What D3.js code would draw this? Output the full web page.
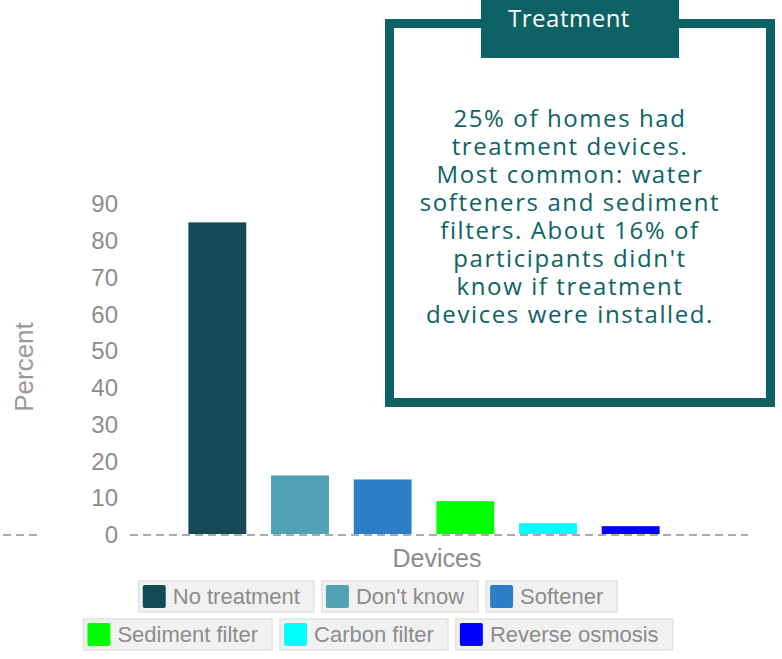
<!DOCTYPE html>
<html>
<head>
<meta charset="utf-8">
<script src="https://cdn.jsdelivr.net/npm/d3@7"></script>
<style>
  body { margin: 0; background: #fff; }
  svg { display: block; }
</style>
</head>
<body>
<div id="chart"></div>
<script>
// data
const categories = ['No treatment', "Don't know", 'Softener', 'Sediment filter', 'Carbon filter', 'Reverse osmosis']
const percents = [85.0, 16.2, 15.1, 9.2, 3.2, 2.4]
const colors = ['#124a55', '#4fa3b5', '#2e7dc7', '#00ff00', '#00ffff', '#0000ff']
const yTicks = [0, 10, 20, 30, 40, 50, 60, 70, 80, 90]
const noteTitle = 'Treatment'
const noteLines = ['25% of homes had', 'treatment devices.', 'Most common: water', 'softeners and sediment',
    'filters. About 16% of', "participants didn't", 'know if treatment', 'devices were installed.']

const W = 782, H = 659
const axisFont = "'Liberation Sans', Arial, sans-serif"
const noteFont = "'Open Sans', 'Noto Sans', sans-serif"
const teal = '#0c6265'
const grey = '#8c8c8c'

const svg = d3.select('#chart').append('svg')
    .attr('width', W)
    .attr('height', H)

let x = d3.scaleBand()
    .domain(categories)
    .range([176, 672])
    .paddingInner(0.3)
    .paddingOuter(0.15)

let y = d3.scaleLinear()
    .domain([0, 90])
    .range([535, 204])

// dashed zero line, broken where the tick labels sit
svg.append('g')
    .attr('class', 'zero-line')
    .selectAll('line')
    .data([[3, 37], [130, 748]])
    .enter()
    .append('line')
    .attr('x1', d => d[0])
    .attr('x2', d => d[1])
    .attr('y1', y(0))
    .attr('y2', y(0))
    .attr('stroke', '#aaaaaa')
    .attr('stroke-width', 2)
    .attr('stroke-dasharray', '8,5')

// bars
svg.append('g')
    .attr('class', 'bar')
    .selectAll('rect')
    .data(categories)
    .enter()
    .append('rect')
    .attr('x', d => x(d))
    .attr('y', (d, i) => y(percents[i]))
    .attr('width', x.bandwidth())
    .attr('height', (d, i) => y(0) - y(percents[i]) - 1)
    .attr('fill', (d, i) => colors[i])

// y axis (labels only)
svg.append('g')
    .attr('class', 'y-axis')
    .attr('transform', 'translate(118,0)')
    .call(d3.axisLeft(y).tickValues(yTicks).tickSize(0).tickPadding(0))
    .call(g => g.select('.domain').remove())
    .call(g => g.selectAll('text')
        .attr('font-family', axisFont)
        .attr('font-size', 24)
        .attr('fill', grey))

svg.append('text')
    .attr('transform', 'translate(33,367) rotate(-90)')
    .attr('text-anchor', 'middle')
    .attr('font-family', axisFont)
    .attr('font-size', 26)
    .attr('fill', '#999')
    .text('Percent')

svg.append('text')
    .attr('x', 437)
    .attr('y', 567)
    .attr('text-anchor', 'middle')
    .attr('font-family', axisFont)
    .attr('font-size', 25)
    .attr('fill', grey)
    .text('Devices')

// legend: two centred rows of boxed items
function legendRow(items, top) {
    let row = svg.append('g').attr('class', 'legend')
    let groups = row.selectAll('g')
        .data(items)
        .enter()
        .append('g')

    groups.append('rect').attr('class', 'bg')
    groups.append('rect')
        .attr('x', 4)
        .attr('y', 4)
        .attr('width', 23)
        .attr('height', 23)
        .attr('rx', 2)
        .attr('fill', d => colors[categories.indexOf(d)])
    groups.append('text')
        .attr('x', 34)
        .attr('y', 23)
        .attr('font-family', axisFont)
        .attr('font-size', 22)
        .attr('fill', grey)
        .text(d => d)

    let widths = []
    groups.select('text').nodes().forEach(n => widths.push(34 + n.getComputedTextLength() + 14))
    let total = d3.sum(widths) + 8 * (widths.length - 1)
    let pos = 378 - total / 2
    groups.each(function (d, i) {
        d3.select(this).attr('transform', 'translate(' + pos + ',' + top + ')')
        d3.select(this).select('rect.bg')
            .attr('width', widths[i])
            .attr('height', 31)
            .attr('fill', '#f1f1f1')
            .attr('stroke', '#e2e2e2')
            .attr('stroke-width', 1.5)
        pos += widths[i] + 8
    })
}
legendRow(categories.slice(0, 3), 581)
legendRow(categories.slice(3), 619)

// annotation box
let note = svg.append('g').attr('class', 'note')
note.append('rect')
    .attr('x', 389.5)
    .attr('y', 23.5)
    .attr('width', 381)
    .attr('height', 379)
    .attr('fill', '#fff')
    .attr('stroke', teal)
    .attr('stroke-width', 9)
note.append('rect')
    .attr('x', 481)
    .attr('y', 0)
    .attr('width', 198)
    .attr('height', 58)
    .attr('fill', teal)
note.append('text')
    .attr('x', 569)
    .attr('y', 27)
    .attr('text-anchor', 'middle')
    .attr('font-family', noteFont)
    .attr('font-size', 24)
    .attr('letter-spacing', 0.5)
    .attr('fill', '#fff')
    .text(noteTitle)
note.selectAll('text.line')
    .data(noteLines)
    .enter()
    .append('text')
    .attr('class', 'line')
    .attr('x', 570)
    .attr('y', (d, i) => 127 + i * 28)
    .attr('text-anchor', 'middle')
    .attr('font-family', noteFont)
    .attr('font-size', 24)
    .attr('letter-spacing', 1.6)
    .attr('fill', teal)
    .text(d => d)
</script>
</body>
</html>
